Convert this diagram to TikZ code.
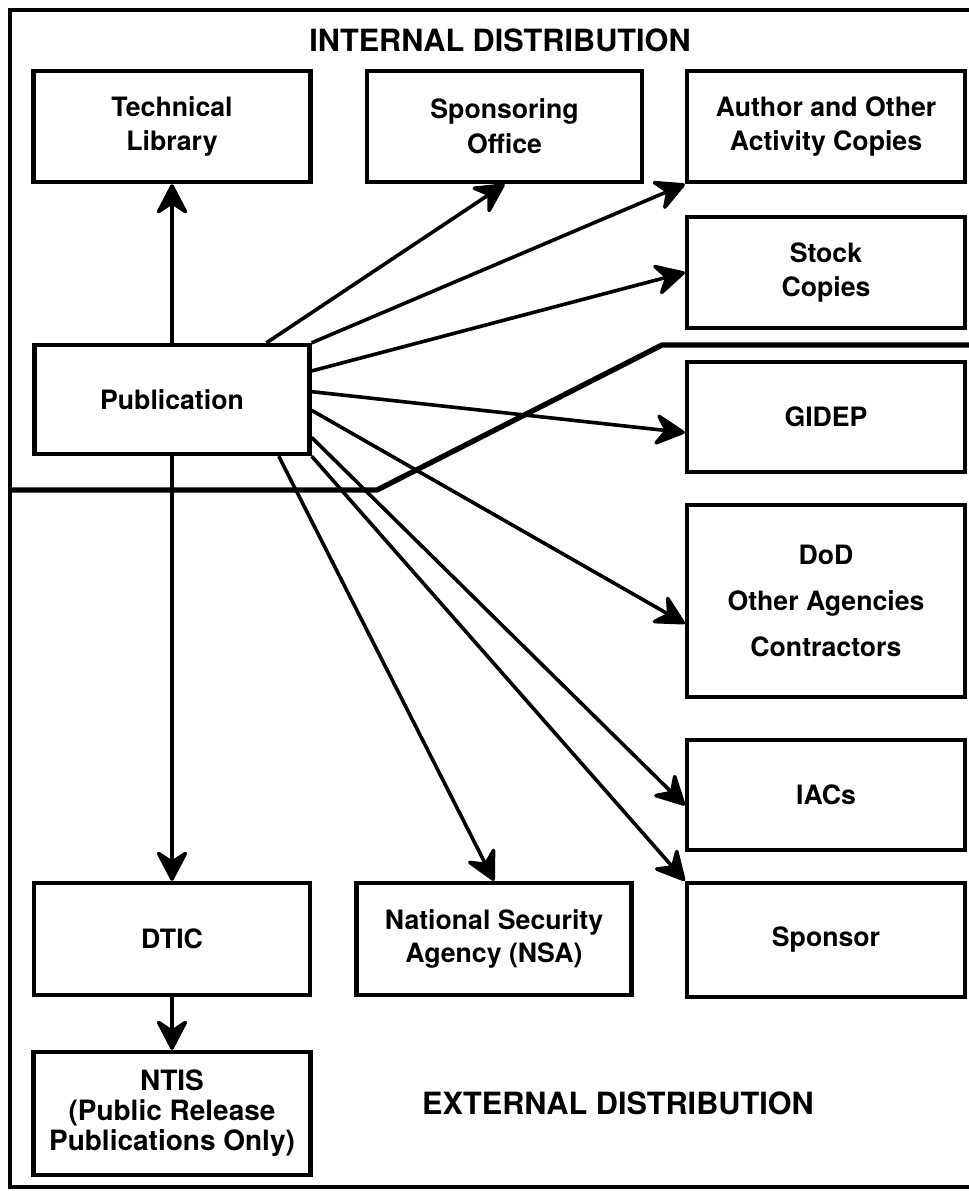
\documentclass[tikz,border=0pt]{standalone}
\usepackage{fontspec}
\setmainfont{TeX Gyre Heros}
\usetikzlibrary{arrows.meta,calc}
\begin{document}
\begin{tikzpicture}[x=0.75pt,y=-0.75pt,
  box/.style={draw,line width=3.3pt,inner sep=0pt,align=center,
    font=\fontsize{20}{26}\selectfont\bfseries},
  conn/.style={line width=2.7pt,-{Stealth[length=26pt,width=27pt,inset=9pt,round]}},
  title/.style={font=\fontsize{23}{28}\selectfont\bfseries},
  framerule/.style={line width=3.3pt},
  divider/.style={line width=4pt,line join=round}]
\useasboundingbox (0,0) rectangle (969,1191);

% frame
\draw[framerule] (969,10) -- (10,10) -- (10,1187) -- (969,1187);

% titles
\node[title] (intl) at (500,40) {INTERNAL DISTRIBUTION};
\node[title] (extl) at (618,1103) {EXTERNAL DISTRIBUTION};

% boxes
\node[box,minimum width=207.75pt,minimum height=83.25pt] (tech) at (172,126.5) {Technical\\Library};
\node[box,minimum width=206.25pt,minimum height=83.25pt] (spons) at (504.5,126.5) {Sponsoring\\Office};
\node[box,minimum width=208.5pt,minimum height=83.25pt] (author) at (826,126.5) {Author and Other\\Activity Copies};
\node[box,minimum width=208.5pt,minimum height=83.25pt] (stock) at (826,272.5) {Stock\\Copies};
\node[box,minimum width=208.5pt,minimum height=82.5pt] (gidep) at (826,417) {GIDEP};
\node[box,minimum width=206.25pt,minimum height=81.75pt] (pub) at (172,399.5) {Publication};
\node[box,minimum width=208.5pt,minimum height=144pt,
  font=\fontsize{20}{34.5}\selectfont\bfseries] (dod) at (826,601) {DoD\\Other Agencies\\Contractors};
\node[box,minimum width=208.5pt,minimum height=82.5pt] (iacs) at (826,795) {IACs};
\node[box,minimum width=208.5pt,minimum height=85.5pt] (sponsor) at (826,940) {Sponsor};
\node[box,minimum width=206.25pt,minimum height=84pt,
  font=\fontsize{20}{25}\selectfont\bfseries] (nsa) at (494,939) {National Security\\Agency (NSA)};
\node[box,minimum width=207pt,minimum height=84pt] (dtic) at (172,939) {DTIC};
\node[box,minimum width=207.75pt,minimum height=92.25pt,
  font=\fontsize{21}{22.5}\selectfont\bfseries] (ntis) at (172,1113.5) {NTIS\\(Public Release\\Publications Only)};

% divider between internal and external distribution
\draw[divider] (10,490) -- (377,490) -- (662,345) -- (969,345);

% connectors
\draw[conn] (pub.north) -- (tech.south);
\draw[conn] ($(pub.north west)!0.838!(pub.north east)$) -- (spons.south);
\draw[conn] (pub.north east) -- (author.south west);
\draw[conn] ($(pub.north east)!0.248!(pub.south east)$) -- (stock.west);
\draw[conn] ($(pub.north east)!0.431!(pub.south east)$) -- ($(gidep.north west)!0.636!(gidep.south west)$);
\draw[conn] ($(pub.north east)!0.596!(pub.south east)$) -- ($(dod.north west)!0.615!(dod.south west)$);
\draw[conn] ($(pub.north east)!0.835!(pub.south east)$) -- ($(iacs.north west)!0.59!(iacs.south west)$);
\draw[conn] (pub.south east) -- (sponsor.north west);
\draw[conn] ($(pub.south west)!0.882!(pub.south east)$) -- (nsa.north);
\draw[conn] (pub.south) -- (dtic.north);
\draw[conn] (dtic.south) -- (ntis.north);
\end{tikzpicture}
\end{document}
